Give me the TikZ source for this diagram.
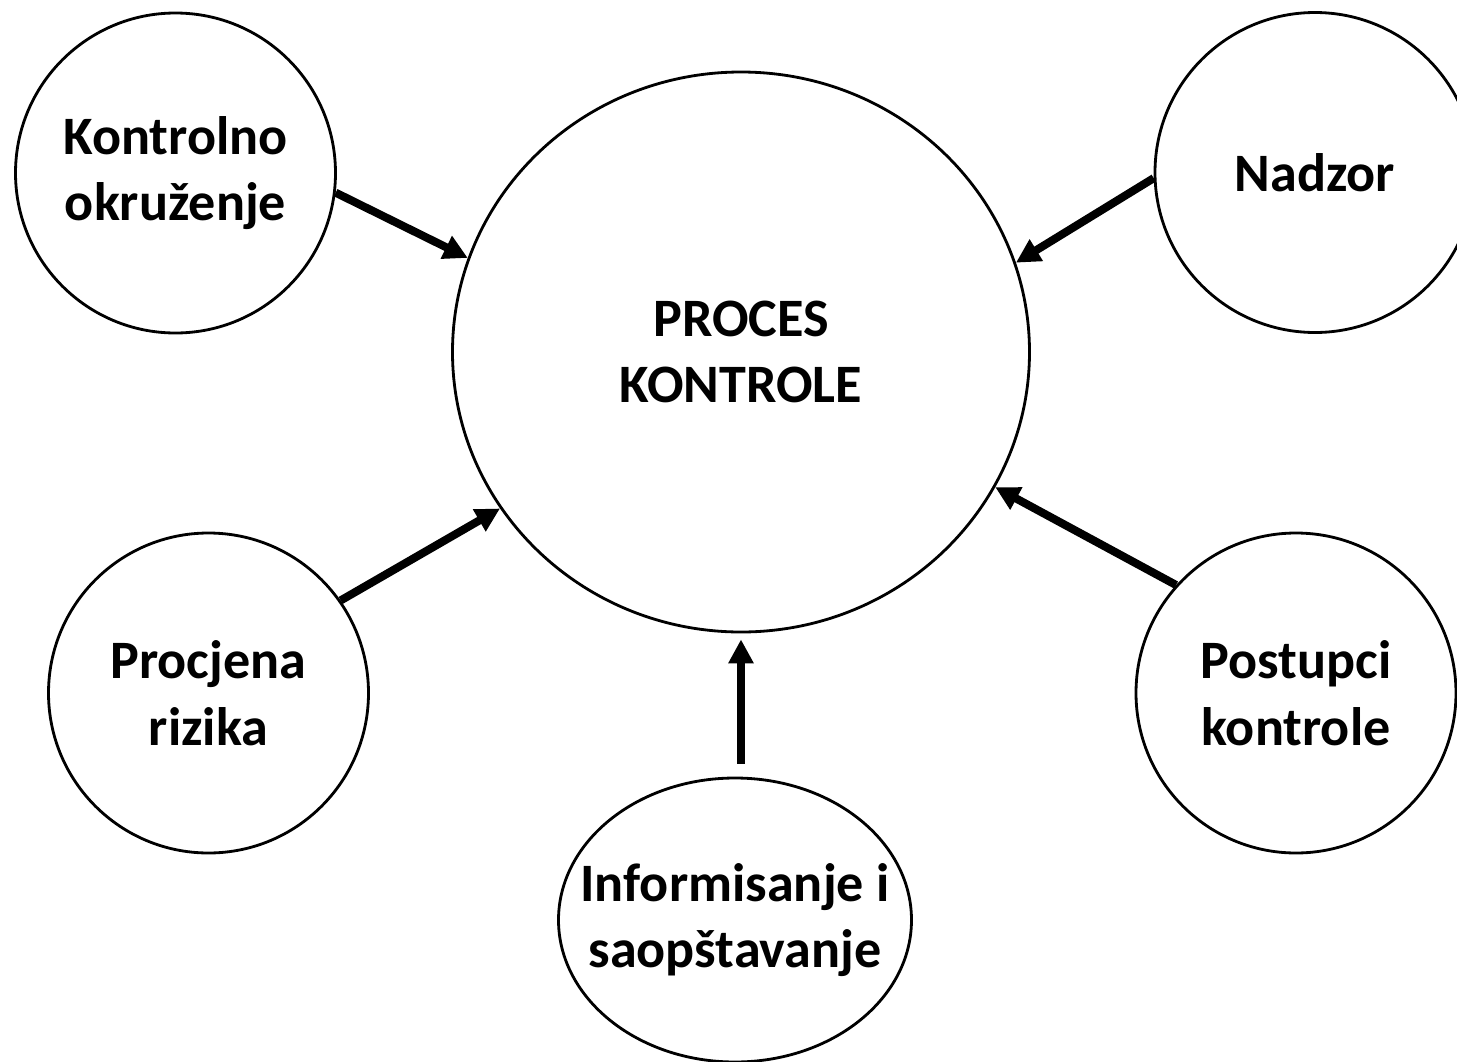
\documentclass[tikz,border=0pt]{standalone}
\usepackage{fontspec}
\setmainfont{Carlito}
\usepackage{tikz}
\usetikzlibrary{shapes.geometric,arrows.meta}

\begin{document}
\begin{tikzpicture}[every node/.style={font=\fontsize{15.4pt}{19pt}\selectfont\bfseries, align=center, inner sep=0pt},
        krug/.style={draw, circle, line width=0.8pt, minimum size=3.2cm},
        elipsa/.style={draw, ellipse, line width=0.8pt},
        strelica/.style={line width=2.3pt, -{Triangle[length=0.24cm,width=0.24cm]}}]
        \useasboundingbox (0,0) rectangle (14.57,-10.62);
        \clip (0,0) rectangle (14.57,-10.62);

        \node[elipsa, minimum width=5.77cm, minimum height=5.6cm] (proces) at (7.41,-3.52) {PROCES\\KONTROLE};

        \node[krug] (okruzenje) at (1.755,-1.73) {Kontrolno\\okruženje};
        \node[krug] (nadzor) at (13.15,-1.725) {Nadzor};
        \node[krug] (rizik) at (2.085,-6.93) {Procjena\\rizika};
        \node[krug] (postupci) at (12.96,-6.93) {Postupci\\kontrole};
        % tekst posebno, da elipsa ostane uska
        \node[elipsa, minimum width=3.53cm, minimum height=2.84cm,
              label={center:Informisanje i\\saopštavanje}] (info) at (7.35,-9.2) {};

        \draw[strelica] (okruzenje.-7) -- (proces.161);
        \draw[strelica] (nadzor.182) -- (proces.18);
        \draw[strelica] (rizik.35) -- (proces.213);
        \draw[strelica] (postupci.138) -- (proces.-28);
        \draw[strelica] ([xshift=0.06cm,yshift=0.13cm]info.north) -- ([xshift=0.0cm,yshift=-0.06cm]proces.south);
    \end{tikzpicture}
\end{document}
